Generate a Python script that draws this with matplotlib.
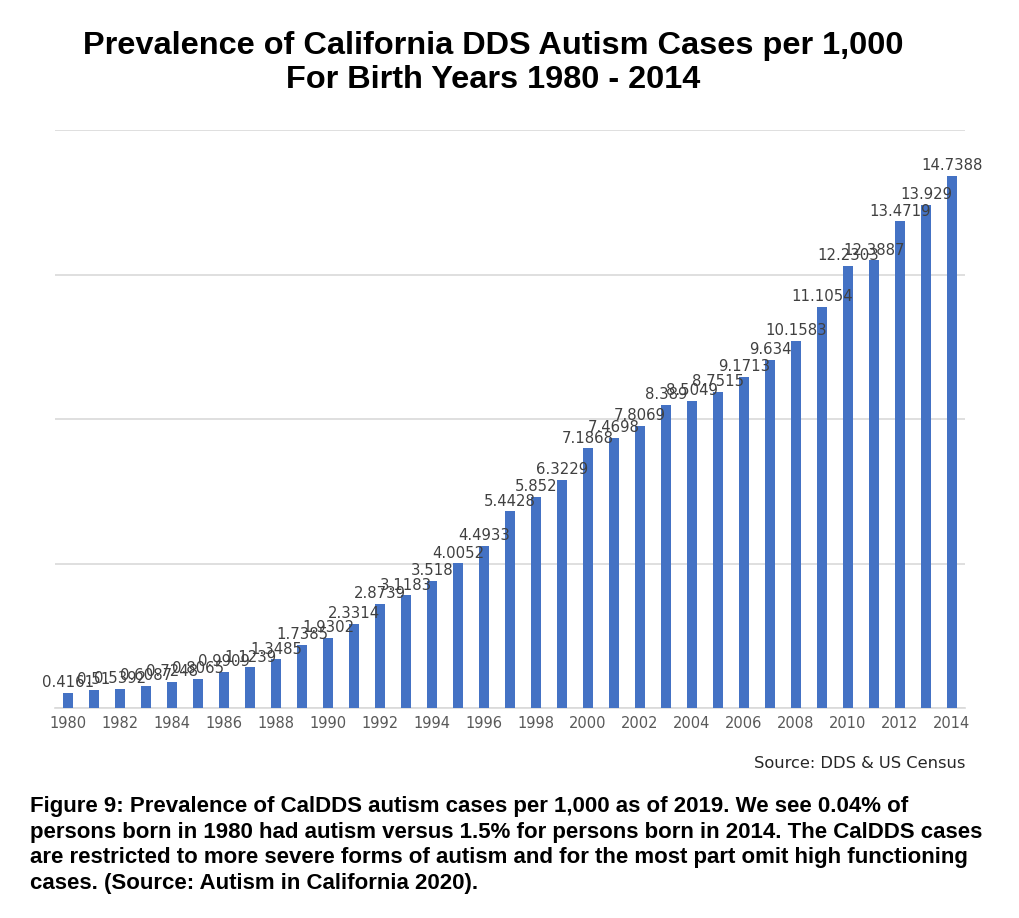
import matplotlib.pyplot as plt

years = list(range(1980, 2015))
cases = [0.4161, 0.5100, 0.5392, 0.6087, 0.7248, 0.8065, 0.9909, 1.1239, 1.3485,
         1.7385, 1.9302, 2.3314, 2.8739, 3.1183, 3.518, 4.0052, 4.4933, 5.4428,
         5.852, 6.3229, 7.1868, 7.4698, 7.8069, 8.389, 8.5049, 8.7515, 9.1713,
         9.634, 10.1583, 11.1054, 12.2303, 12.3887, 13.4719, 13.929, 14.7388]
labels = [f"{v:g}" for v in cases]
tick_years = years[::2]

title = "Prevalence of California DDS Autism Cases per 1,000\nFor Birth Years 1980 - 2014"
source = "Source: DDS & US Census"
caption = ("Figure 9: Prevalence of CalDDS autism cases per 1,000 as of 2019. We see 0.04% of\n"
           "persons born in 1980 had autism versus 1.5% for persons born in 2014. The CalDDS cases\n"
           "are restricted to more severe forms of autism and for the most part omit high functioning\n"
           "cases. (Source: Autism in California 2020).")

fig = plt.figure(figsize=(10.2, 9.18), dpi=100)
ax = fig.add_axes([55 / 1020, 1 - 708 / 918, 910 / 1020, 578 / 918])

x = list(range(len(years)))
bars = ax.bar(x, cases, width=0.36, color="#4472C4", zorder=3)
for xi, v, lab in zip(x, cases, labels):
    ax.annotate(lab, (xi, v), xytext=(0, 2), textcoords="offset points",
                ha="center", va="bottom", fontsize=10.7, color="#404040",
                family="DejaVu Sans", zorder=4)

ax.set_xlim(-0.5, len(years) - 0.5)
ax.set_ylim(0, 16)
ax.set_yticks([0, 4, 8, 12, 16])
ax.set_yticklabels([])
ax.tick_params(axis="y", length=0)
ax.grid(axis="y", color="#D9D9D9", linewidth=1.2, zorder=0)
ax.set_xticks(x[::2])
ax.set_xticklabels([str(y) for y in tick_years], fontsize=10.5, color="#595959",
                   family="DejaVu Sans")
ax.tick_params(axis="x", length=0, pad=6)
for s in ["top", "right", "left"]:
    ax.spines[s].set_visible(False)
ax.spines["bottom"].set_color("#D9D9D9")
ax.spines["bottom"].set_linewidth(1.2)

fig.text(493 / 1020, 1 - 63 / 918, title, ha="center", va="center",
         fontsize=23.4, fontweight="bold", family="Liberation Sans",
         linespacing=1.16)
fig.text(965 / 1020, 1 - 763 / 918, source, ha="right", va="center",
         fontsize=11.7, color="#262626", family="DejaVu Sans")
fig.text(30 / 1020, 1 - 845 / 918, caption, ha="left", va="center",
         fontsize=16, fontweight="bold", family="Liberation Sans",
         linespacing=1.31)

fig.savefig("out.png", dpi=100)
